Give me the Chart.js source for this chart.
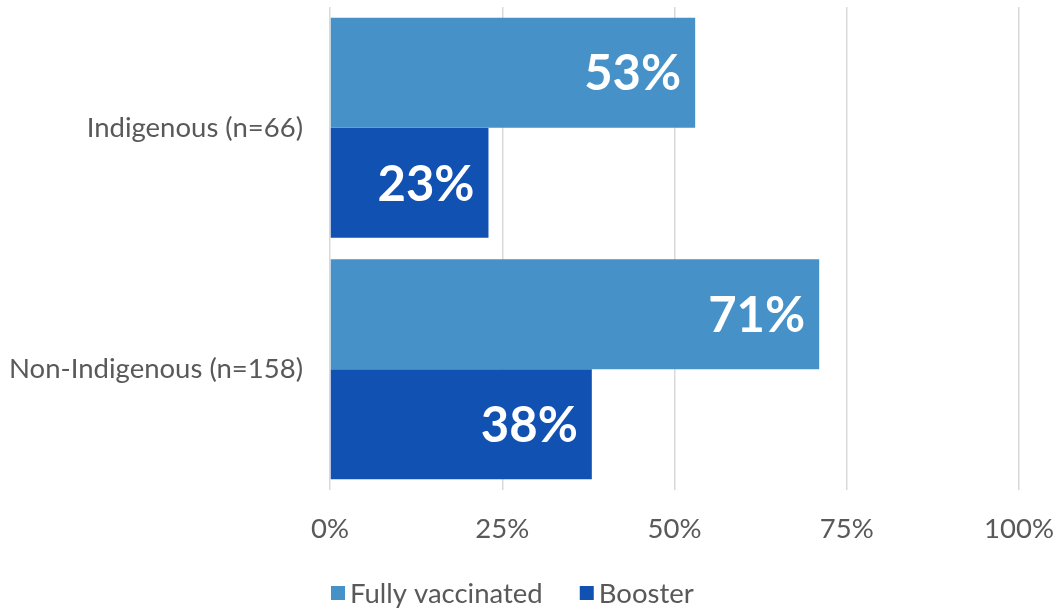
<!DOCTYPE html>
<html>
<head>
<meta charset="utf-8">
<script src="https://cdn.jsdelivr.net/npm/chart.js@4.4.1/dist/chart.umd.min.js"></script>
<style>
  html, body { margin: 0; padding: 0; background: #ffffff; }
  #wrap { width: 1060px; height: 611px; }
</style>
</head>
<body>
<div id="wrap"><canvas id="chart" width="1060" height="611"></canvas></div>
<script>
// Vaccination coverage by group (percent)
const categories = ['Indigenous (n=66)', 'Non-Indigenous (n=158)'];
const fullyVaccinated = [53, 71];
const booster = [23, 38];
const tickValues = [0, 25, 50, 75, 100];

const FONT = 'Lato, "Open Sans", sans-serif';
const TEXT = '#595959';

// White value labels drawn inside the end of each bar
const valueLabels = {
  id: 'valueLabels',
  afterDatasetsDraw(chart) {
    const ctx = chart.ctx;
    ctx.save();
    ctx.font = 'bold 49px ' + FONT;
    ctx.fillStyle = '#ffffff';
    ctx.textAlign = 'right';
    ctx.textBaseline = 'middle';
    chart.data.datasets.forEach((ds, di) => {
      chart.getDatasetMeta(di).data.forEach((bar, i) => {
        ctx.fillText(ds.data[i] + '%', bar.x - 14, bar.y + 2);
      });
    });
    ctx.restore();
  }
};

// Compact legend under the axis: small square swatch followed closely by its label
const compactLegend = {
  id: 'compactLegend',
  afterDraw(chart) {
    const ctx = chart.ctx;
    const size = 27.5, box = 14, gap = 5, itemGap = 37;
    ctx.save();
    ctx.font = size + 'px ' + FONT;
    ctx.textBaseline = 'middle';
    let x = chart.chartArea.left + 1;
    const cy = 593;
    chart.data.datasets.forEach(ds => {
      ctx.fillStyle = ds.backgroundColor;
      ctx.fillRect(x, cy - box / 2, box, box);
      ctx.fillStyle = TEXT;
      ctx.fillText(ds.label, x + box + gap, cy + 1);
      x += box + gap + ctx.measureText(ds.label).width + itemGap;
    });
    ctx.restore();
  }
};

new Chart(document.getElementById('chart'), {
  type: 'bar',
  data: {
    labels: categories,
    datasets: [
      { label: 'Fully vaccinated', data: fullyVaccinated, backgroundColor: '#4591c8' },
      { label: 'Booster', data: booster, backgroundColor: '#1151b1' }
    ]
  },
  options: {
    indexAxis: 'y',
    responsive: false,
    animation: false,
    layout: { padding: { top: 7, right: 41, left: 0, bottom: 0 } },
    datasets: { bar: { categoryPercentage: 0.912, barPercentage: 1.0 } },
    scales: {
      x: {
        min: 0,
        max: 100,
        afterBuildTicks(scale) { scale.ticks = tickValues.map(v => ({ value: v })); },
        afterFit(scale) {
          scale.height = scale.chart.height - 490;
          scale.paddingLeft = 0;
          scale.paddingRight = 0;
        },
        grid: { color: '#d9d9d9', lineWidth: 1.5, drawTicks: false },
        border: { display: false },
        ticks: {
          padding: 23,
          color: TEXT,
          font: { family: FONT, size: 27.5 },
          callback: v => v + '%'
        }
      },
      y: {
        afterFit(scale) {
          scale.width = 330;
          scale.paddingTop = 0;
          scale.paddingBottom = 0;
        },
        grid: { display: false, drawTicks: false },
        border: { display: false },
        ticks: {
          padding: 27,
          color: TEXT,
          font: { family: FONT, size: 27.5 }
        }
      }
    },
    plugins: {
      legend: { display: false },
      tooltip: { enabled: false }
    }
  },
  plugins: [valueLabels, compactLegend]
});
</script>
</body>
</html>
